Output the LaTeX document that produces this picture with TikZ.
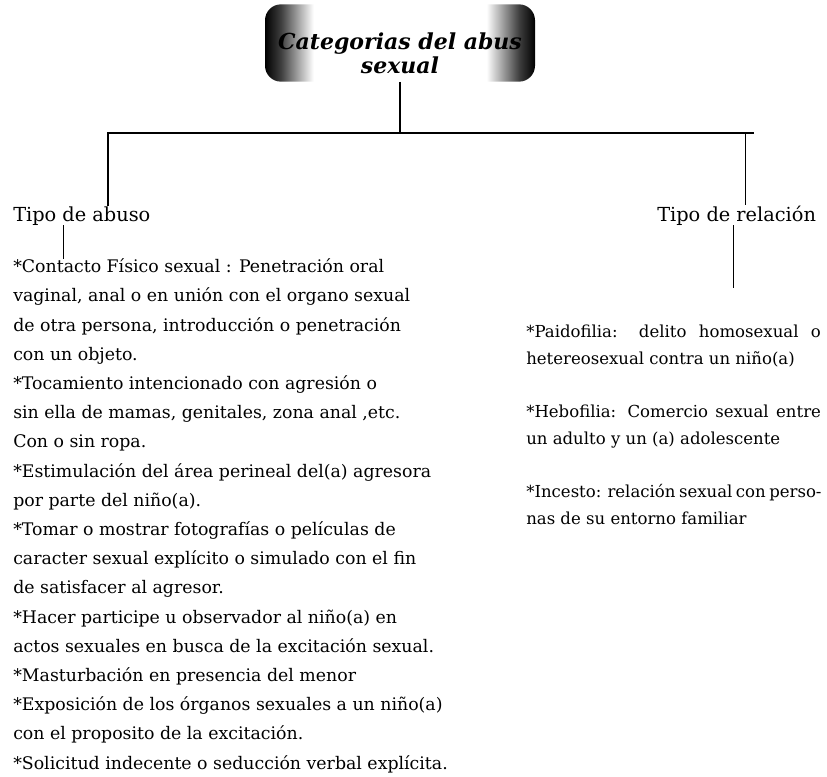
\documentclass[tikz,border=0pt]{standalone}
\usepackage{fontspec}
\setmainfont{DejaVu Serif}
\usetikzlibrary{positioning}
\pgfdeclarehorizontalshading{titlefade}{100bp}{color(0bp)=(black); color(25bp)=(black); color(28bp)=(black!75); color(34bp)=(white); color(66bp)=(white); color(72bp)=(black!75); color(75bp)=(black); color(100bp)=(black)}
\newcommand{\fullrow}[1]{\makebox[221pt][s]{#1}}

\begin{document}
\begin{tikzpicture}[x=0.75pt, y=-0.75pt,
  head text/.style={inner sep=0pt, font=\fontsize{14.5}{17}\selectfont},
  list text/.style={inner sep=0pt, align=left, font=\fontsize{13}{21.9}\selectfont},
  side text/.style={inner sep=0pt, align=left, font=\fontsize{12.4}{20.25}\selectfont},
  branch/.style={line width=1.3pt},
  twig/.style={line width=0.6pt}]
  \useasboundingbox (0,0) rectangle (827,776);

  % title box
  \node[
  shading=titlefade,
  rounded corners=12pt,
  minimum width=202.5pt,
  minimum height=58pt,
  inner sep=0pt
  ] (title) at (400,43) {};
  \node[
  inner sep=0pt,
  align=center,
  font=\fontsize{16.5}{18}\selectfont\bfseries\itshape
  ] (titletext) at (400,53) {Categorias del abus\\sexual};

  % headings
  \node[head text, anchor=base west] (abuso) at (13,221) {Tipo de abuso};
  \node[head text, anchor=base west] (relacion) at (657,221) {Tipo de relación};

  % lists
  \node[
  list text,
  below=25pt of abuso.south west,
  anchor=north west
  ] (abusolist) {*Contacto Físico sexual : Penetración oral\\
    vaginal, anal o en unión con el organo sexual\\
    de otra persona, introducción o penetración\\
    con un objeto.\\
    *Tocamiento intencionado con agresión o\\
    sin ella de mamas, genitales, zona anal ,etc.\\
    Con o sin ropa.\\
    *Estimulación del área perineal del(a) agresora\\
    por parte del niño(a).\\
    *Tomar o mostrar fotografías o películas de\\
    caracter sexual explícito o simulado con el fin\\
    de satisfacer al agresor.\\
    *Hacer participe u observador al niño(a) en\\
    actos sexuales en busca de la excitación sexual.\\
    *Masturbación en presencia del menor\\
    *Exposición de los órganos sexuales a un niño(a)\\
    con el proposito de la excitación.\\
    *Solicitud indecente o seducción verbal explícita.};
  \node[
  side text,
  anchor=north west
  ] (relacionlist) at (526,325) {\fullrow{*Paidofilia: delito homosexual o}\\
    hetereosexual contra un niño(a)\\[19.5pt]
    \fullrow{*Hebofilia: Comercio sexual entre}\\
    un adulto y un (a) adolescente\\[19.5pt]
    \fullrow{*Incesto: relación sexual con perso-}\\
    nas de su entorno familiar};

  % connectors
  \coordinate (lj) at (108,133);
  \coordinate (rj) at (745,133);
  \coordinate (hend) at (754,133);
  \coordinate (lsub) at (63,0);
  \coordinate (rsubend) at (733,288);
  \draw[branch] (title.south) -- (title.south |- lj);
  \draw[branch] (lj |- abuso.north) -- (lj) -- (hend);
  \draw[twig] (rj) -- (rj |- relacion.north);
  \draw[twig] (abuso.south -| lsub) -- (abusolist.north -| lsub);
  \draw[twig] (relacion.south -| rsubend) -- (rsubend);
\end{tikzpicture}
\end{document}
